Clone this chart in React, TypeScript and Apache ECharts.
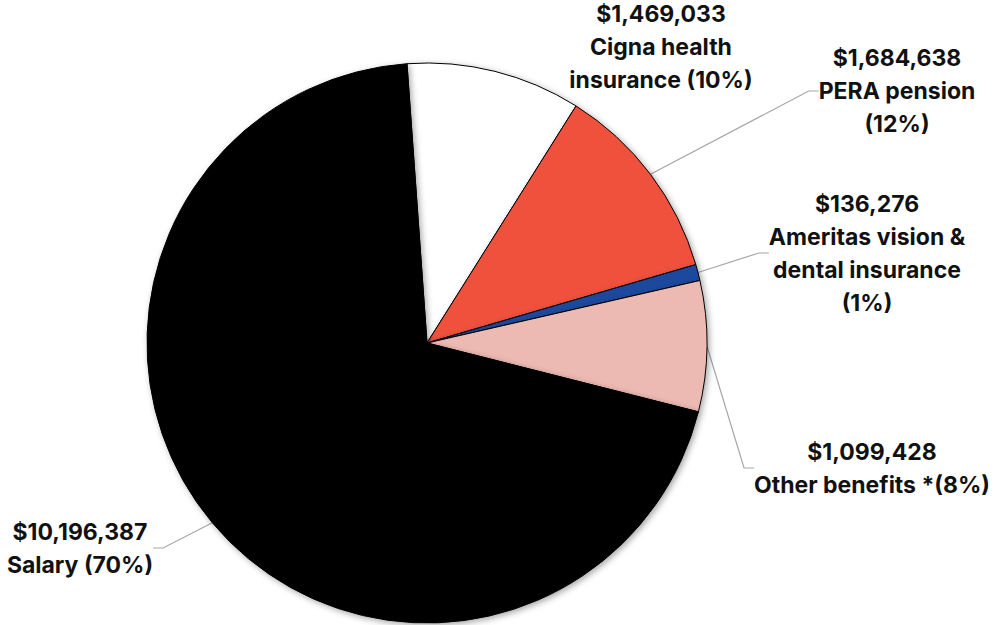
import React, { useEffect, useRef } from "react";
import * as echarts from "echarts";

const categories = [
  "Cigna health insurance",
  "PERA pension",
  "Ameritas vision & dental insurance",
  "Other benefits *",
  "Salary",
];
const values = [1469033, 1684638, 136276, 1099428, 10196387];
const labelWraps = [
  "Cigna health\ninsurance ",
  "PERA pension\n",
  "Ameritas vision &\ndental insurance\n",
  "Other benefits *",
  "Salary ",
];
const colors = ["#FFFFFF", "#F0513D", "#1F4A9E", "#EDBAB3", "#000000"];
const labelPos: [number, number][] = [
  [661, 47],
  [897, 91],
  [867, 253],
  [872, 468],
  [80, 548],
];

export default function App() {
  const ref = useRef<HTMLDivElement>(null);
  useEffect(() => {
    if (!ref.current) return;
    const chart = echarts.init(ref.current, undefined, { renderer: "svg" });
    const total = values.reduce((a, b) => a + b, 0);
    chart.setOption({
      animation: false,
      backgroundColor: "#FFFFFF",
      series: [
        {
          type: "pie",
          center: [427, 343],
          radius: [0, 280],
          startAngle: 94.1,
          clockwise: true,
          avoidLabelOverlap: false,
          itemStyle: {
            borderColor: "#000",
            borderWidth: 1,
            shadowBlur: 6,
            shadowColor: "rgba(0,0,0,0.35)",
            shadowOffsetX: 2,
            shadowOffsetY: 2,
          },
          label: {
            show: true,
            position: "outside",
            fontFamily: "Inter",
            fontWeight: "bold",
            fontSize: 23,
            lineHeight: 33,
            color: "#111",
            align: "center",
            formatter: (p: any) => {
              const i = p.dataIndex;
              const pct = Math.round((values[i] / total) * 100);
              return (
                "$" + values[i].toLocaleString("en-US") + "\n" + labelWraps[i] + "(" + pct + "%)"
              );
            },
          },
          labelLine: {
            show: true,
            length: 20,
            length2: 10,
            lineStyle: { color: "#A6A6A6", width: 1.2 },
          },
          labelLayout: (params: any) => {
            const i = params.dataIndex;
            return {
              x: labelPos[i][0],
              y: labelPos[i][1],
              align: "center",
              verticalAlign: "middle",
            };
          },
          data: categories.map((name, i) => ({
            name,
            value: values[i],
            itemStyle: { color: colors[i] },
            labelLine: i === 0 ? { show: false } : undefined,
          })),
        },
      ],
    });
    return () => chart.dispose();
  }, []);
  return (
    <div
      ref={ref}
      style={{ position: "fixed", left: 0, top: 0, width: 1000, height: 625 }}
    />
  );
}
